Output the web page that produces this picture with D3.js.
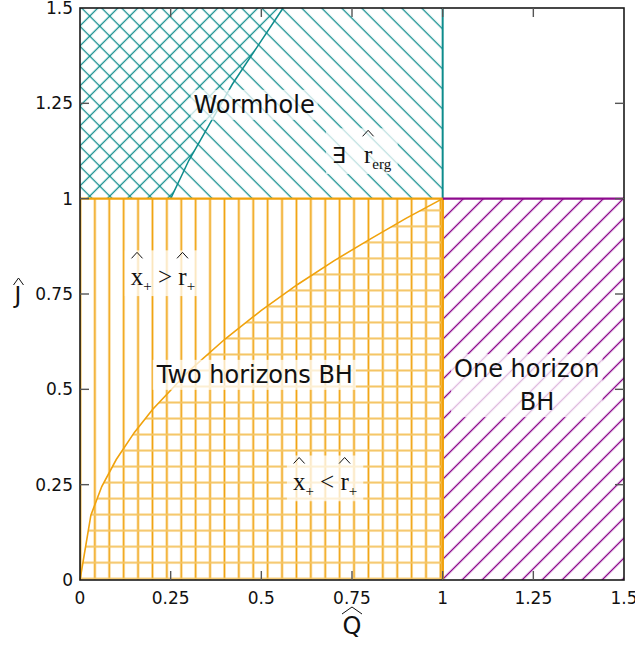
<!DOCTYPE html>
<html>
<head>
<meta charset="utf-8">
<script src="https://cdn.jsdelivr.net/npm/d3@7"></script>
<style>
body { margin: 0; background: #ffffff; }
text { font-family: "DejaVu Sans", sans-serif; white-space: pre; }
</style>
</head>
<body>
<svg id="chart" width="635" height="650"></svg>
<script>
// tick values and labels (same on both axes)
var qTicks = [0, 0.25, 0.5, 0.75, 1, 1.25, 1.5];
var qTickLabels = ["0", "0.25", "0.5", "0.75", "1", "1.25", "1.5"];
var jTicks = [0, 0.25, 0.5, 0.75, 1, 1.25, 1.5];
var jTickLabels = ["0", "0.25", "0.5", "0.75", "1", "1.25", "1.5"];

// boundary x+ = r+ inside the two horizon region
var horizonQ = [0, 0.03, 0.06, 0.1, 0.15, 0.2, 0.3, 0.4, 0.5, 0.6, 0.7, 0.8, 0.9, 1];
var horizonJ = [0, 0.17, 0.245, 0.316, 0.387, 0.447, 0.548, 0.632, 0.707, 0.775, 0.837, 0.894, 0.949, 1];

// edge of the crosshatched part of the wormhole region
var ergQ = [0.25, 0.3, 0.36, 0.42, 0.49, 0.56];
var ergJ = [1, 1.1, 1.2, 1.3, 1.4, 1.5];

// regions: [Q from, Q to, J from, J to]
var wormholeBox = [0, 1, 1, 1.5];
var twoHorizonBox = [0, 1, 0, 1];
var oneHorizonBox = [1, 1.5, 0, 1];

var TEAL = "#0e8c8c", ORANGE = "#f0a20c", ORANGE_LIGHT = "#f5c565", PURPLE = "#8e0a8e";

var svg = d3.select("#chart");
var x = d3.scaleLinear().domain([0, 1.5]).range([80, 624]);
var y = d3.scaleLinear().domain([0, 1.5]).range([580, 8]);

var defs = svg.append("defs");

// diagonal hatch: horizontal lines rotated, passing through a given data point
var diagPattern = function(id, angle, step, q0, j0, color, w) {
    var px = x(q0), py = y(j0);
    var p = angle > 0 ? -(px - py) / Math.SQRT2 : (px + py) / Math.SQRT2;
    var pat = defs.append("pattern").attr("id", id)
        .attr("patternUnits", "userSpaceOnUse")
        .attr("width", 10).attr("height", step)
        .attr("y", p - step / 2)
        .attr("patternTransform", "rotate(" + angle + ")");
    pat.append("line").attr("x1", -1).attr("x2", 11)
        .attr("y1", step / 2).attr("y2", step / 2)
        .attr("stroke", color).attr("stroke-width", w);
};
diagPattern("hatch-teal-back", 45, 20 / Math.SQRT2, 0.7215, 1.5, TEAL, 1.3);
diagPattern("hatch-teal-fwd", -45, 20 / Math.SQRT2, 0.026, 1.478, TEAL, 1.3);
diagPattern("hatch-purple", -45, 20 / Math.SQRT2, 1.057, 1.0, PURPLE, 1.4);

// vertical orange lines (every ~0.04 in Q)
var vStep = x(0.0397) - x(0);
var vPat = defs.append("pattern").attr("id", "hatch-orange-v")
    .attr("patternUnits", "userSpaceOnUse")
    .attr("width", vStep).attr("height", 10)
    .attr("x", x(0.041) - vStep / 2);
vPat.append("line").attr("x1", vStep / 2).attr("x2", vStep / 2)
    .attr("y1", -1).attr("y2", 11)
    .attr("stroke", ORANGE).attr("stroke-width", 1.8);

// horizontal orange lines (every ~0.042 in J)
var hStep = y(0) - y(0.042);
var hPat = defs.append("pattern").attr("id", "hatch-orange-h")
    .attr("patternUnits", "userSpaceOnUse")
    .attr("width", 10).attr("height", hStep)
    .attr("y", y(0.0454) - hStep / 2);
hPat.append("line").attr("x1", -1).attr("x2", 11)
    .attr("y1", hStep / 2).attr("y2", hStep / 2)
    .attr("stroke", ORANGE_LIGHT).attr("stroke-width", 2);

var boxRect = function(b) {
    return { x: x(b[0]), y: y(b[3]), w: x(b[1]) - x(b[0]), h: y(b[2]) - y(b[3]) };
};
var fillBox = function(b, fill) {
    var r = boxRect(b);
    svg.append("rect").attr("x", r.x).attr("y", r.y)
        .attr("width", r.w).attr("height", r.h).attr("fill", fill);
};

var line = d3.line().x(function(d) { return x(d[0]); }).y(function(d) { return y(d[1]); });
var horizonPts = horizonQ.map(function(q, i) { return [q, horizonJ[i]]; });
var ergPts = ergQ.map(function(q, i) { return [q, ergJ[i]]; });

// region hatches
fillBox(wormholeBox, "url(#hatch-teal-back)");
svg.append("path")
    .attr("d", line([[0, 1]].concat(ergPts, [[0, 1.5]])) + "Z")
    .attr("fill", "url(#hatch-teal-fwd)");
fillBox(twoHorizonBox, "url(#hatch-orange-v)");
svg.append("path")
    .attr("d", line(horizonPts.concat([[1, 0]])) + "Z")
    .attr("fill", "url(#hatch-orange-h)");
fillBox(oneHorizonBox, "url(#hatch-purple)");

// region borders
var seg = function(pts, color, w) {
    svg.append("path").attr("d", line(pts)).attr("fill", "none")
        .attr("stroke", color).attr("stroke-width", w);
};
seg(ergPts, TEAL, 1.5);
seg([[1, 1], [1, 1.5]], TEAL, 2);
seg([[0, 1], [1, 1]], ORANGE, 2.2);
seg([[1, 0], [1, 1]], ORANGE, 2.6);
seg([[1, 1], [1.5, 1]], PURPLE, 2.4);
seg(horizonPts, ORANGE, 1.6);

// labels with translucent white boxes
var labelBox = function(g, padX, padY) {
    var bb = g.node().getBBox();
    g.insert("rect", ":first-child")
        .attr("x", bb.x - padX).attr("y", bb.y - padY)
        .attr("width", bb.width + 2 * padX).attr("height", bb.height + 2 * padY)
        .attr("fill", "#ffffff").attr("fill-opacity", 0.72);
};
var plainLabel = function(lines, q, j, lineGap) {
    var g = svg.append("g");
    lines.forEach(function(l, i) {
        g.append("text").attr("x", x(q + (l.dq || 0))).attr("y", y(j) + i * lineGap)
            .attr("text-anchor", "middle").attr("font-size", 24).attr("fill", "#111")
            .text(l.t);
    });
    labelBox(g, 3, 1);
};
plainLabel([{ t: "Wormhole" }], 0.48, 1.225, 0);
plainLabel([{ t: "Two horizons BH" }], 0.482, 0.517, 0);
plainLabel([{ t: "One horizon" }, { t: "BH", dq: 0.028 }], 1.232, 0.532, 33);

var hat = function(g, cx, top, hw, hh) {
    g.append("path")
        .attr("d", "M" + (cx - hw) + "," + (top + hh) + "L" + cx + "," + top + "L" + (cx + hw) + "," + (top + hh))
        .attr("fill", "none").attr("stroke", "#111").attr("stroke-width", 1);
};
// pieces laid out one after the other: {t, hat, sub, sans, gap}
var mathLabel = function(pieces, q, j, size) {
    var g = svg.append("g");
    var cx = x(q), base = y(j);
    pieces.forEach(function(p) {
        cx += p.gap || 0;
        var fs = p.sub ? size * 0.6 : size;
        var t = g.append("text").attr("x", cx).attr("y", base + (p.sub ? size * 0.25 : 0))
            .attr("font-size", p.sans ? 22 : fs).attr("fill", "#111")
            .style("font-family", p.sans ? "DejaVu Sans" : "'Liberation Serif', 'DejaVu Serif', serif")
            .text(p.t);
        var w = t.node().getComputedTextLength();
        if (p.hat) hat(g, cx + w / 2, base - size * 1.3, 5.5, 6);
        cx += w;
    });
    labelBox(g, 6, 2);
};
mathLabel([{ t: "x", hat: true }, { t: "+", sub: true }, { t: "\u00a0>\u00a0" }, { t: "r", hat: true }, { t: "+", sub: true }],
    0.14, 0.774, 25);
mathLabel([{ t: "x", hat: true }, { t: "+", sub: true }, { t: "\u00a0<\u00a0" }, { t: "r", hat: true }, { t: "+", sub: true }],
    0.587, 0.236, 25);
mathLabel([{ t: "\u2203", sans: true }, { t: "r", hat: true, gap: 18 }, { t: "erg", sub: true }],
    0.695, 1.094, 25);

// frame
svg.append("rect").attr("x", x(0)).attr("y", y(1.5))
    .attr("width", x(1.5) - x(0)).attr("height", y(0) - y(1.5))
    .attr("fill", "none").attr("stroke", "#1a1a1a").attr("stroke-width", 1.6);

// inward ticks on all four sides
var tickLen = 9;
var ticks = svg.append("g").attr("stroke", "#555").attr("stroke-width", 1.4);
qTicks.forEach(function(q) {
    if (q === 0 || q === 1.5) return;
    ticks.append("line").attr("x1", x(q)).attr("x2", x(q)).attr("y1", y(0)).attr("y2", y(0) - tickLen);
    ticks.append("line").attr("x1", x(q)).attr("x2", x(q)).attr("y1", y(1.5)).attr("y2", y(1.5) + tickLen);
});
jTicks.forEach(function(j) {
    if (j === 0 || j === 1.5) return;
    ticks.append("line").attr("y1", y(j)).attr("y2", y(j)).attr("x1", x(0)).attr("x2", x(0) + tickLen);
    ticks.append("line").attr("y1", y(j)).attr("y2", y(j)).attr("x1", x(1.5)).attr("x2", x(1.5) - tickLen);
});

// tick labels
svg.append("g").selectAll("text").data(qTicks).enter().append("text")
    .attr("x", function(d) { return x(d); }).attr("y", 604)
    .attr("text-anchor", "middle").attr("font-size", 17).attr("fill", "#111")
    .text(function(d, i) { return qTickLabels[i]; });
svg.append("g").selectAll("text").data(jTicks).enter().append("text")
    .attr("x", 73).attr("y", function(d) { return y(d); }).attr("dy", "0.36em")
    .attr("text-anchor", "end").attr("font-size", 17).attr("fill", "#111")
    .text(function(d, i) { return jTickLabels[i]; });

// axis titles
var axisG = svg.append("g");
axisG.append("text").attr("x", 18).attr("y", 303).attr("text-anchor", "middle")
    .attr("font-size", 23).attr("fill", "#111").text("J");
hat(axisG, 18.5, 278, 5, 7);
axisG.append("text").attr("x", x(0.75)).attr("y", 634).attr("text-anchor", "middle")
    .attr("font-size", 24).attr("fill", "#111").text("Q");
hat(axisG, x(0.75), 607, 10, 7);
</script>
</body>
</html>
